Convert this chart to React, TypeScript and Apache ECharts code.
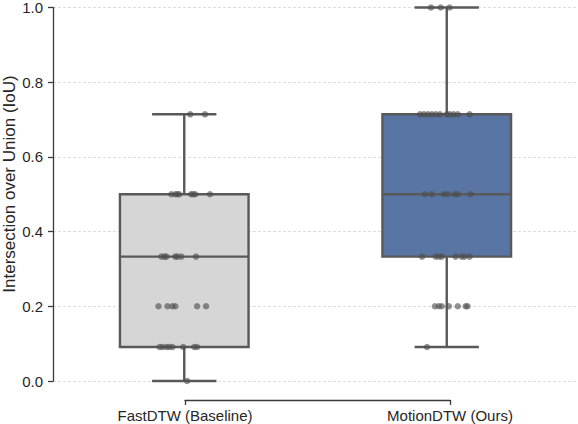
import React, { useEffect, useRef } from "react";
import * as echarts from "echarts";

const CATEGORIES = ["FastDTW (Baseline)", "MotionDTW (Ours)"];

// Box statistics per category: [min, q1, median, q3, max]
const FAST_BOX = [0, 0.091, 0.333, 0.5, 0.714];
const MOTION_BOX = [0.091, 0.333, 0.5, 0.714, 1.0];

// Individual observations (strip plot) and their horizontal jitter (category units)
const FAST_VALUES = [
  0.714, 0.714,
  0.5, 0.5, 0.5, 0.5, 0.5, 0.5, 0.5, 0.5,
  0.333, 0.333, 0.333, 0.333, 0.333, 0.333, 0.333,
  0.2, 0.2, 0.2, 0.2, 0.2, 0.2,
  0.091, 0.091, 0.091, 0.091, 0.091, 0.091, 0.091, 0.091,
  0,
];
const FAST_JITTER = [
  0.023, 0.079,
  -0.049, -0.034, -0.026, -0.019, 0.026, 0.034, 0.042, 0.098,
  -0.087, -0.075, -0.068, -0.034, -0.026, -0.011, 0.045,
  -0.098, -0.064, -0.045, -0.034, 0.049, 0.083,
  -0.094, -0.083, -0.068, -0.057, -0.045, -0.004, 0.038, 0.049,
  0.011,
];
const MOTION_VALUES = [
  1.0, 1.0, 1.0,
  0.714, 0.714, 0.714, 0.714, 0.714, 0.714, 0.714, 0.714, 0.714, 0.714, 0.714,
  0.5, 0.5, 0.5, 0.5, 0.5, 0.5, 0.5,
  0.333, 0.333, 0.333, 0.333, 0.333, 0.333, 0.333, 0.333,
  0.2, 0.2, 0.2, 0.2, 0.2, 0.2, 0.2,
  0.091,
];
const MOTION_JITTER = [
  -0.06, -0.023, 0.011,
  -0.102, -0.087, -0.072, -0.057, -0.042, -0.026, 0, 0.011, 0.026, 0.042, 0.087,
  -0.083, -0.057, -0.011, 0.004, 0.03, 0.042, 0.091,
  -0.094, -0.042, -0.03, -0.019, 0.034, 0.057, 0.068, 0.087,
  -0.045, -0.03, -0.019, 0.008, 0.042, 0.072, 0.079,
  -0.075,
];

const Y_MIN = 0;
const Y_MAX = 1;
const Y_INTERVAL = 0.2;
const Y_TITLE = "Intersection over Union (IoU)";

const BOX_FILLS = ["#d6d6d6", "#5875a4"];
const BOX_LINE = "#595959";
const AXIS_COLOR = "#3a3a3a";
const TEXT_COLOR = "#262626";
const FONT = "'Liberation Sans', Arial, sans-serif";

export default function App() {
  const ref = useRef<HTMLDivElement>(null);

  useEffect(() => {
    if (!ref.current) return;
    const chart = echarts.init(ref.current, undefined, { renderer: "svg" });

    const boxData = [
      [0, ...FAST_BOX],
      [1, ...MOTION_BOX],
    ];
    const fastPts = FAST_VALUES.map((v, k) => [0 + FAST_JITTER[k], v]);
    const motionPts = MOTION_VALUES.map((v, k) => [1 + MOTION_JITTER[k], v]);

    const option: any = {
      animation: false,
      grid: [
        { left: 53, top: 7, width: 530, height: 374, containLabel: false },
        { left: 185, top: 399, width: 265, height: 1, containLabel: false },
      ],
      xAxis: [
        {
          type: "category",
          gridIndex: 0,
          data: CATEGORIES,
          axisLine: { show: false, onZero: false },
          axisTick: { show: false },
          axisLabel: { show: false },
          splitLine: { show: false },
        },
        {
          type: "value",
          gridIndex: 0,
          min: -0.5,
          max: 1.5,
          show: false,
          axisLine: { show: false, onZero: false },
        },
        {
          type: "category",
          gridIndex: 1,
          data: CATEGORIES,
          boundaryGap: false,
          axisLine: { show: true, onZero: false, lineStyle: { color: AXIS_COLOR, width: 1.3 } },
          axisTick: { show: true, length: 5, lineStyle: { color: AXIS_COLOR, width: 1.3 } },
          axisLabel: {
            interval: 0,
            margin: 8,
            fontSize: 15,
            color: TEXT_COLOR,
            fontFamily: FONT,
          },
          splitLine: { show: false },
        },
      ],
      yAxis: [
        {
          type: "value",
          gridIndex: 0,
          min: Y_MIN,
          max: Y_MAX,
          interval: Y_INTERVAL,
          axisLine: { show: true, onZero: false, lineStyle: { color: AXIS_COLOR, width: 1.3 } },
          axisTick: { show: true, length: 5, lineStyle: { color: AXIS_COLOR, width: 1.3 } },
          axisLabel: {
            margin: 10,
            fontSize: 15,
            color: TEXT_COLOR,
            fontFamily: FONT,
            formatter: (v: number) => v.toFixed(1),
          },
          splitLine: {
            show: true,
            lineStyle: { color: "#dddddd", width: 1, type: [3, 2] },
          },
        },
        { type: "value", gridIndex: 1, show: false, min: 0, max: 1, axisLine: { onZero: false } },
      ],
      graphic: [
        {
          type: "text",
          x: 9,
          y: 184,
          rotation: Math.PI / 2,
          style: {
            text: Y_TITLE,
            fontSize: 17,
            fontFamily: FONT,
            fill: TEXT_COLOR,
            textAlign: "center",
            textVerticalAlign: "middle",
          },
        },
      ],
      series: [
        {
          type: "custom",
          xAxisIndex: 0,
          yAxisIndex: 0,
          z: 2,
          silent: true,
          encode: { x: 0, y: [1, 2, 3, 4, 5] },
          data: boxData,
          renderItem: (params: any, api: any) => {
            const i = api.value(0);
            const mn = api.value(1);
            const q1 = api.value(2);
            const md = api.value(3);
            const q3 = api.value(4);
            const mx = api.value(5);
            const band = api.size([1, 0])[0];
            const bw = band * 0.49;
            const cw = bw * 0.5;
            const pMin = api.coord([i, mn]);
            const pQ1 = api.coord([i, q1]);
            const pMd = api.coord([i, md]);
            const pQ3 = api.coord([i, q3]);
            const pMx = api.coord([i, mx]);
            const cx = pMd[0];
            const ls = { stroke: BOX_LINE, lineWidth: 2.4, fill: "none" };
            return {
              type: "group",
              children: [
                { type: "line", shape: { x1: cx, y1: pQ1[1], x2: cx, y2: pMin[1] }, style: ls },
                { type: "line", shape: { x1: cx, y1: pQ3[1], x2: cx, y2: pMx[1] }, style: ls },
                { type: "line", shape: { x1: cx - cw / 2, y1: pMin[1], x2: cx + cw / 2, y2: pMin[1] }, style: ls },
                { type: "line", shape: { x1: cx - cw / 2, y1: pMx[1], x2: cx + cw / 2, y2: pMx[1] }, style: ls },
                {
                  type: "rect",
                  shape: { x: cx - bw / 2, y: pQ3[1], width: bw, height: pQ1[1] - pQ3[1] },
                  style: { fill: BOX_FILLS[params.dataIndex], stroke: BOX_LINE, lineWidth: 2.4 },
                },
                { type: "line", shape: { x1: cx - bw / 2, y1: pMd[1], x2: cx + bw / 2, y2: pMd[1] }, style: ls },
              ],
            };
          },
        },
        {
          type: "scatter",
          xAxisIndex: 1,
          yAxisIndex: 0,
          z: 3,
          silent: true,
          symbolSize: 6.5,
          itemStyle: { color: "#4d4d4d", opacity: 0.62 },
          data: [...fastPts, ...motionPts],
        },
      ],
    };

    chart.setOption(option);
    return () => chart.dispose();
  }, []);

  return (
    <div
      ref={ref}
      style={{ position: "absolute", left: 0, top: 0, width: 578, height: 424 }}
    />
  );
}
